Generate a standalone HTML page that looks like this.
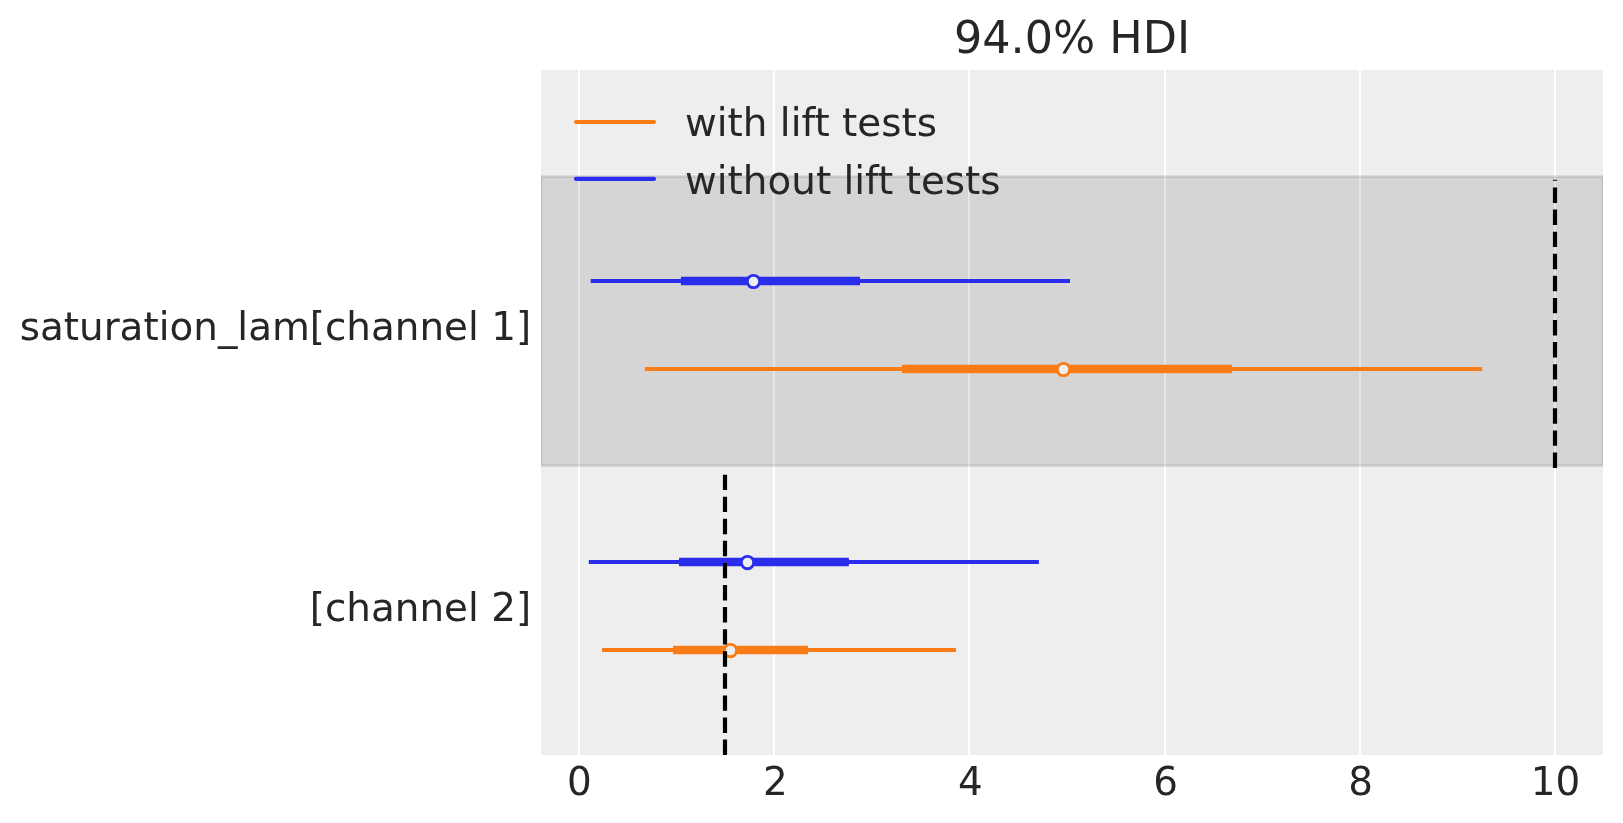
<!DOCTYPE html>
<html><head><meta charset="utf-8">
<style>
html,body{margin:0;padding:0;background:#fff;}
svg{display:block;will-change:transform;}
text{font-family:"DejaVu Sans","Liberation Sans",sans-serif;fill:#262626;}
</style></head>
<body>
<svg width="1623" height="823" viewBox="0 0 1623 823">
<defs><clipPath id="ax"><rect x="541" y="70" width="1062" height="685"/></clipPath></defs>
<rect x="0" y="0" width="1623" height="823" fill="#ffffff"/>
<!-- axes background -->
<rect x="541" y="70" width="1062" height="685" fill="#eeeeee"/>
<!-- grid -->
<g fill="#ffffff">
<rect x="578" y="70" width="2" height="685"/>
<rect x="773" y="70" width="2" height="685"/>
<rect x="968" y="70" width="2" height="685"/>
<rect x="1164" y="70" width="2" height="685"/>
<rect x="1359" y="70" width="2" height="685"/>
<rect x="1554" y="70" width="2" height="685"/>
</g>
<g clip-path="url(#ax)">
<!-- band -->
<rect x="541" y="176.6" width="1062" height="289" fill="#000" fill-opacity="0.1"/>
<rect x="541" y="176.6" width="1062" height="289" fill="none" stroke="#000" stroke-opacity="0.1" stroke-width="2.78"/>
<!-- data lines -->
<g stroke-linecap="butt">
<line x1="590.7" y1="281" x2="1070" y2="281" stroke="#2a2eec" stroke-width="4.17"/>
<line x1="680.9" y1="281" x2="860" y2="281" stroke="#2a2eec" stroke-width="8.33"/>
<circle cx="753.5" cy="281.5" r="6.2" fill="#eeeeee" stroke="#2a2eec" stroke-width="2.85"/>
<line x1="644.8" y1="369" x2="1482.1" y2="369" stroke="#fa7c17" stroke-width="4.17"/>
<line x1="901.9" y1="369" x2="1232" y2="369" stroke="#fa7c17" stroke-width="8.33"/>
<circle cx="1063.5" cy="369.5" r="6.2" fill="#eeeeee" stroke="#fa7c17" stroke-width="2.85"/>
<line x1="588.8" y1="562" x2="1038.9" y2="562" stroke="#2a2eec" stroke-width="4.17"/>
<line x1="679" y1="562" x2="848.9" y2="562" stroke="#2a2eec" stroke-width="8.33"/>
<circle cx="747.5" cy="562.5" r="6.2" fill="#eeeeee" stroke="#2a2eec" stroke-width="2.85"/>
<line x1="602" y1="650" x2="956.04" y2="650" stroke="#fa7c17" stroke-width="4.17"/>
<line x1="673.1" y1="650" x2="808" y2="650" stroke="#fa7c17" stroke-width="8.33"/>
<circle cx="730.5" cy="650.5" r="6.2" fill="#eeeeee" stroke="#fa7c17" stroke-width="2.85"/>
</g>
<!-- reference dashed lines -->
<line x1="1555" y1="467.9" x2="1555" y2="179.7" stroke="#000" stroke-width="4.17" stroke-dasharray="15.41 6.67"/>
<line x1="725" y1="755" x2="725" y2="474.4" stroke="#000" stroke-width="4.17" stroke-dasharray="15.41 6.67"/>
<!-- legend -->
<line x1="576.05" y1="121.96" x2="653.95" y2="121.96" stroke="#fa7c17" stroke-width="4.17" stroke-linecap="round"/>
<line x1="576.05" y1="178.95" x2="653.95" y2="178.95" stroke="#2a2eec" stroke-width="4.17" stroke-linecap="round"/>
</g>
<text x="685" y="135.8" font-size="38.89">with lift tests</text>
<text x="685" y="193.9" font-size="38.89">without lift tests</text>
<!-- title -->
<text x="1072" y="52.75" font-size="44.44" text-anchor="middle">94.0% HDI</text>
<!-- y labels -->
<text x="531.1" y="340" font-size="38.89" text-anchor="end">saturation_lam[channel 1]</text>
<text x="531.1" y="621" font-size="38.89" text-anchor="end">[channel 2]</text>
<!-- x tick labels -->
<g font-size="38.89" text-anchor="middle">
<text x="579.3" y="794.9">0</text>
<text x="775.3" y="794.9">2</text>
<text x="970.4" y="794.9">4</text>
<text x="1165.6" y="794.9">6</text>
<text x="1360.6" y="794.9">8</text>
<text x="1555.5" y="794.9">10</text>
</g>
</svg>
</body></html>
